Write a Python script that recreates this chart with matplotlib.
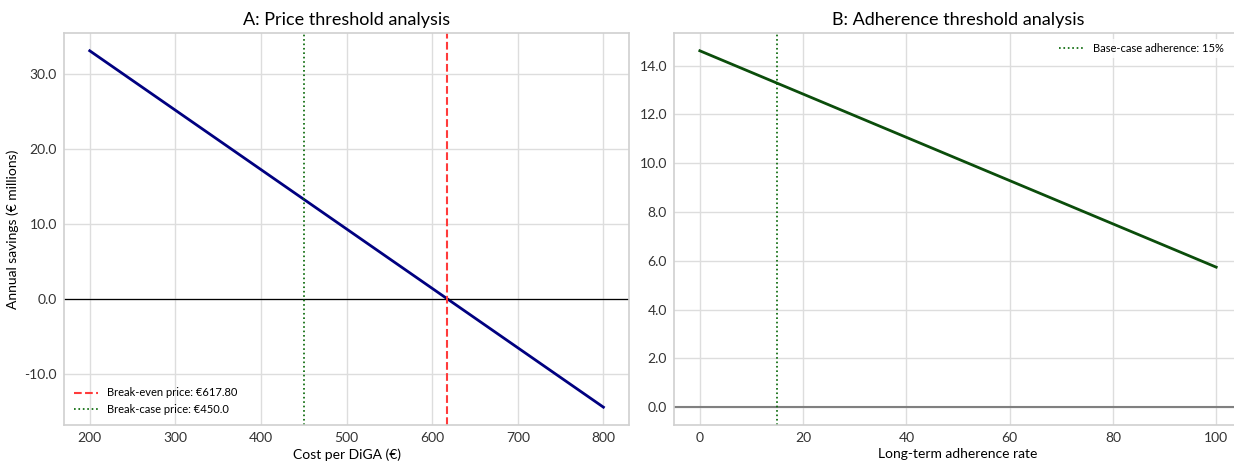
import numpy as np
import matplotlib
matplotlib.use("Agg")
import matplotlib.pyplot as plt
from matplotlib.ticker import FormatStrFormatter

plt.rcParams['font.family'] = ['Lato', 'DejaVu Sans']

# panel A: price threshold
price = [200, 800]
price_savings = [33.1, -14.43]
break_even_price = 617.80
base_price = 450.0

# panel B: adherence threshold
adherence = [0, 100]
adherence_savings = [14.61, 5.74]
base_adherence = 15

fig = plt.figure(figsize=(12.34, 4.63), dpi=100)
ax1 = fig.add_axes([0.0519, 0.0821, 0.4579, 0.8467])
ax2 = fig.add_axes([0.5462, 0.0821, 0.4603, 0.8467])

for ax in (ax1, ax2):
    ax.set_facecolor('white')
    ax.grid(True, color='#dddddd', linewidth=1.0)
    ax.set_axisbelow(True)
    for s in ax.spines.values():
        s.set_color('#d0d0d0')
        s.set_linewidth(1.2)
    ax.tick_params(length=0, labelsize=10, colors='#333333', pad=5)
    ax.yaxis.set_major_formatter(FormatStrFormatter('%.1f'))

# A
ax1.plot(price, price_savings, color='navy', linewidth=2)
ax1.axhline(0, color='black', linewidth=0.9)
ax1.axvline(break_even_price, color='#ff3b3b', linestyle='--', linewidth=1.5,
            label=f'Break-even price: €{break_even_price:.2f}')
ax1.axvline(base_price, color='darkgreen', linestyle=':', linewidth=1.2,
            label=f'Break-case price: €{base_price}')
ax1.set_yticks([-10, 0, 10, 20, 30])
ax1.set_title('A: Price threshold analysis', fontsize=13, pad=6)
ax1.set_xlabel('Cost per DiGA (€)', fontsize=10, labelpad=3)
ax1.set_ylabel('Annual savings (€ millions)', fontsize=10)
ax1.legend(loc='lower left', frameon=False, fontsize=8, handlelength=2.2)

# B
ax2.plot(adherence, adherence_savings, color='#0b4d0b', linewidth=2)
ax2.axhline(0, color='gray', linewidth=1.5)
ax2.axvline(base_adherence, color='darkgreen', linestyle=':', linewidth=1.2,
            label=f'Base-case adherence: {base_adherence}%')
ax2.set_yticks([0, 2, 4, 6, 8, 10, 12, 14])
ax2.set_title('B: Adherence threshold analysis', fontsize=13, pad=6)
ax2.set_xlabel('Long-term adherence rate', fontsize=10, labelpad=3)
leg = ax2.legend(loc='upper right', frameon=True, fontsize=8, handlelength=2.2,
                 bbox_to_anchor=(0.985, 1.0))
leg.get_frame().set_edgecolor('none')

fig.savefig('out.png', dpi=100)
